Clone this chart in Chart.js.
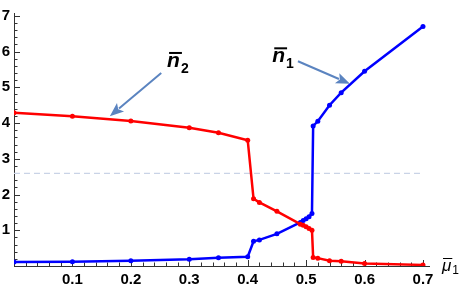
<!DOCTYPE html>
<html>
<head>
<meta charset="utf-8">
<script src="https://cdn.jsdelivr.net/npm/chart.js@4.4.1/dist/chart.umd.min.js"></script>
<style>
  html, body { margin: 0; padding: 0; background: #fff; }
</style>
</head>
<body>
<canvas id="chart" width="463" height="294"></canvas>
<script>
// ================= DATA =================
const mu = [0, 0.1, 0.2, 0.3, 0.35, 0.4, 0.41, 0.42, 0.45, 0.49, 0.495, 0.5, 0.505, 0.51, 0.512, 0.52, 0.54, 0.56, 0.6, 0.7];
const n1 = [0.11, 0.12, 0.15, 0.19, 0.23, 0.26, 0.69, 0.73, 0.9, 1.22, 1.27, 1.32, 1.38, 1.47, 3.92, 4.05, 4.5, 4.85, 5.45, 6.7];
const n2 = [4.29, 4.19, 4.06, 3.87, 3.73, 3.52, 1.88, 1.78, 1.53, 1.17, 1.14, 1.1, 1.05, 1.0, 0.24, 0.22, 0.15, 0.13, 0.07, 0.03];

const refLevel = 2.59; // dashed reference line
const refRange = [0, 0.7];

const xTicks = [0.1, 0.2, 0.3, 0.4, 0.5, 0.6, 0.7];
const yTicks = [1, 2, 3, 4, 5, 6, 7];

// arrow annotations in data units: [fromX, fromY, toX, toY]
const arrowN2 = [0.252, 5.4, 0.164, 4.19];
const arrowN1 = [0.486, 5.73, 0.575, 5.1];
// label anchors (data units, baseline of the "n")
const labelN2 = [0.262, 5.57];
const labelN1 = [0.442, 5.7];

const RED = "#ff0000";
const BLUE = "#0000ff";
const ARROW = "#5b84c0";
const AXIS = "#333333";
const tickFont = { family: "'Liberation Sans', Arial, sans-serif", size: 15, weight: "bold" };

const pts = (ys) => mu.map((x, i) => ({ x, y: ys[i] }));

// ================= HELPERS =================
function arrow(ctx, x1, y1, x2, y2) {
  const a = Math.atan2(y2 - y1, x2 - x1);
  const head = 14, half = 5.5;
  const bx = x2 - head * Math.cos(a), by = y2 - head * Math.sin(a);
  ctx.strokeStyle = ARROW;
  ctx.fillStyle = ARROW;
  ctx.lineWidth = 2;
  ctx.beginPath();
  ctx.moveTo(x1, y1);
  ctx.lineTo(bx + 2 * Math.cos(a), by + 2 * Math.sin(a));
  ctx.stroke();
  ctx.beginPath();
  ctx.moveTo(x2, y2);
  ctx.lineTo(bx - half * Math.sin(a), by + half * Math.cos(a));
  ctx.lineTo(bx + 3 * Math.cos(a), by + 3 * Math.sin(a));
  ctx.lineTo(bx + half * Math.sin(a), by - half * Math.cos(a));
  ctx.closePath();
  ctx.fill();
}

function barLabel(ctx, x, y, sub) {
  ctx.fillStyle = "#000";
  ctx.textAlign = "left";
  ctx.textBaseline = "alphabetic";
  ctx.font = "italic bold 21px 'Liberation Sans', Arial, sans-serif";
  ctx.fillText("n", x, y);
  const w = ctx.measureText("n").width;
  ctx.fillRect(x + 2, y - 15, w, 2);
  ctx.font = "bold 14px 'Liberation Sans', Arial, sans-serif";
  ctx.fillText(sub, x + w + 1, y + 6);
}

// ================= PLUGIN =================
const mmaAxes = {
  id: "mmaAxes",
  beforeDatasetsDraw(chart) {
    const { ctx, chartArea: a, scales: { x, y } } = chart;
    const y0 = y.getPixelForValue(0);
    const x0 = x.getPixelForValue(0);
    ctx.save();
    ctx.strokeStyle = AXIS;
    ctx.lineWidth = 1;
    ctx.beginPath();
    ctx.moveTo(a.left, y0 + 0.5);
    ctx.lineTo(a.right, y0 + 0.5);
    ctx.moveTo(x0 + 0.5, a.top);
    ctx.lineTo(x0 + 0.5, a.bottom);
    // x ticks
    for (let i = 1; i <= 35; i++) {
      const px = Math.round(x.getPixelForValue(i * 0.02)) + 0.5;
      const len = i % 5 === 0 ? 6 : 3.5;
      ctx.moveTo(px, y0);
      ctx.lineTo(px, y0 - len);
    }
    // y ticks
    for (let i = 1; i <= 35; i++) {
      const py = Math.round(y.getPixelForValue(i * 0.2)) + 0.5;
      const len = i % 5 === 0 ? 6 : 3.5;
      ctx.moveTo(x0, py);
      ctx.lineTo(x0 + len, py);
    }
    ctx.stroke();
    ctx.restore();
  },
  afterDraw(chart) {
    const { ctx, chartArea: a, scales: { x, y } } = chart;
    const px = (v) => x.getPixelForValue(v);
    const py = (v) => y.getPixelForValue(v);
    ctx.save();
    arrow(ctx, px(arrowN2[0]), py(arrowN2[1]), px(arrowN2[2]), py(arrowN2[3]));
    arrow(ctx, px(arrowN1[0]), py(arrowN1[1]), px(arrowN1[2]), py(arrowN1[3]));
    barLabel(ctx, px(labelN2[0]), py(labelN2[1]), "2");
    barLabel(ctx, px(labelN1[0]), py(labelN1[1]), "1");

    // axis label mu-bar_1
    const lx = a.right + 12, ly = py(0) + 5;
    ctx.fillStyle = "#000";
    ctx.font = "italic 17px 'Liberation Sans', Arial, sans-serif";
    ctx.fillText("\u03bc", lx, ly);
    const w = ctx.measureText("\u03bc").width;
    ctx.fillRect(lx + 1, ly - 13, w, 1);
    ctx.font = "12px 'Liberation Sans', Arial, sans-serif";
    ctx.fillText("1", lx + w + 1, ly + 3);
    ctx.restore();
  },
};

// ================= CHART =================
new Chart(document.getElementById("chart"), {
  type: "line",
  data: {
    datasets: [
      {
        label: "n2",
        data: pts(n2),
        borderColor: RED,
        backgroundColor: RED,
        borderWidth: 2.5,
        pointRadius: 2.5,
        pointBorderWidth: 0,
        tension: 0,
      },
      {
        label: "n1",
        data: pts(n1),
        borderColor: BLUE,
        backgroundColor: BLUE,
        borderWidth: 2.5,
        pointRadius: 2.5,
        pointBorderWidth: 0,
        tension: 0,
      },
      {
        label: "ref",
        data: refRange.map((v) => ({ x: v, y: refLevel })),
        borderColor: "#c9d3e6",
        borderWidth: 1.3,
        borderDash: [6, 4],
        pointRadius: 0,
      },
    ],
  },
  options: {
    responsive: false,
    animation: false,
    layout: { padding: { left: 0, top: 8, right: 33, bottom: 0 } },
    plugins: { legend: { display: false }, tooltip: { enabled: false } },
    scales: {
      x: {
        type: "linear",
        min: 0,
        max: 0.712,
        grid: { display: false, drawTicks: false },
        border: { display: false },
        afterBuildTicks: (s) => { s.ticks = xTicks.map((v) => ({ value: v })); },
        afterFit: (s) => { s.height = 28; },
        ticks: {
          color: "#000",
          font: tickFont,
          padding: 5,
          maxRotation: 0,
          autoSkip: false,
          callback: (v) => v.toFixed(1),
        },
      },
      y: {
        type: "linear",
        min: 0,
        max: 7.08,
        grid: { display: false, drawTicks: false },
        border: { display: false },
        afterBuildTicks: (s) => { s.ticks = yTicks.map((v) => ({ value: v })); },
        afterFit: (s) => { s.width = 14; },
        ticks: {
          color: "#000",
          font: tickFont,
          padding: 4,
          autoSkip: false,
          callback: (v) => String(v),
        },
      },
    },
  },
  plugins: [mmaAxes],
});
</script>
</body>
</html>
